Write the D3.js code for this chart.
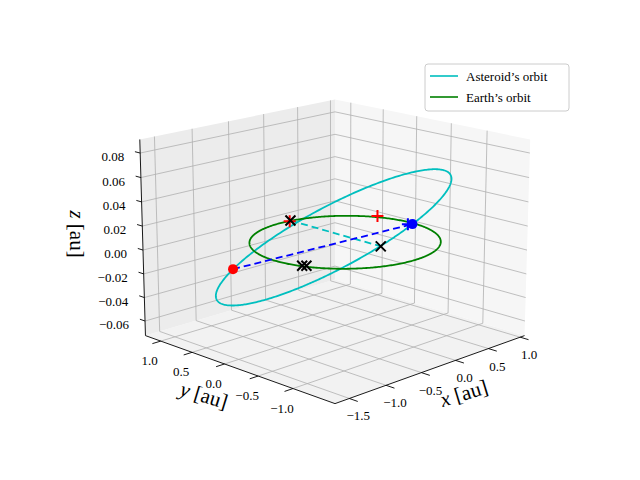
<!DOCTYPE html>
<html><head><meta charset="utf-8">
<script src="https://cdn.jsdelivr.net/npm/d3@7"></script>
<style>body{margin:0;background:#fff}svg text{font-family:"Liberation Serif","DejaVu Serif",serif}</style>
</head><body><svg id="c" width="640" height="480"></svg>
<script>
// axis limits and ticks
const xLim=[-1.69,1.07], yLim=[-1.58,1.25], zLim=[-0.0725,0.091];
const xTicks=[-1.5,-1.0,-0.5,0.0,0.5,1.0];
const yTicks=[-1.0,-0.5,0.0,0.5,1.0];
const zTicks=[-0.06,-0.04,-0.02,0.00,0.02,0.04,0.06,0.08];
// Earth orbit: radius (au); Asteroid orbital elements
const earthRadius=1.0;
const astA=1.24, astE=0.228, astIncDeg=-3.5, astNodeDeg=-3.0, astPeriDeg=22;
// line of nodes endpoints (au)
const nodeRed=[-1.49,0.078,0], nodeBlue=[0.97,-0.05,0];
const crossPts=[[0.15,1.0,0],[0.117,-0.406,0],[-0.93,-0.33,0],[-0.90,-0.36,0]];
const redPlus=[[0.94,0.45,0],[0.12,0.98,0]];
const bluePlus=[[0.93,-0.02,0]];
const cyanDash=[[0.15,1.0,0],[0.117,-0.406,0]];
const legendLabels=["Asteroid’s orbit","Earth’s orbit"];
const colors={ast:"#00bfbf",earth:"#008000"};

const svg=d3.select("#c");
const elev=16*Math.PI/180, azim=-135*Math.PI/180, D=7, S=272, cx=335, cy=239;
const sx=d3.scaleLinear().domain(xLim).range([-0.5,0.5]);
const sy=d3.scaleLinear().domain(yLim).range([-0.5,0.5]);
const sz=d3.scaleLinear().domain(zLim).range([-0.375,0.375]);
const R=[-Math.sin(azim),Math.cos(azim),0];
const U=[-Math.sin(elev)*Math.cos(azim),-Math.sin(elev)*Math.sin(azim),Math.cos(elev)];
const E=[Math.cos(elev)*Math.cos(azim),Math.cos(elev)*Math.sin(azim),Math.sin(elev)];
function P(x,y,z){const p=[sx(x),sy(y),sz(z)];const dot=v=>v[0]*p[0]+v[1]*p[1]+v[2]*p[2];
 const f=D/(D-dot(E));return [cx+S*dot(R)*f, cy-S*dot(U)*f];}
const line=d3.line();
const [x0,x1]=xLim,[y0,y1]=yLim,[z0,z1]=zLim;
// panes
const pane=(pts,fill)=>svg.append("path").attr("d",line(pts.map(p=>P(...p)))+"Z").attr("fill",fill);
pane([[x0,y0,z0],[x1,y0,z0],[x1,y1,z0],[x0,y1,z0]],"#f2f2f2");
pane([[x0,y1,z0],[x1,y1,z0],[x1,y1,z1],[x0,y1,z1]],"#ececec");
pane([[x1,y0,z0],[x1,y1,z0],[x1,y1,z1],[x1,y0,z1]],"#f6f6f6");
const g=svg.append("g").attr("stroke","#b0b0b0").attr("stroke-width",0.8).attr("fill","none");
const seg=(a,b,sel=g)=>sel.append("path").attr("d",line([P(...a),P(...b)]));
xTicks.forEach(t=>{seg([t,y0,z0],[t,y1,z0]);seg([t,y1,z0],[t,y1,z1]);});
yTicks.forEach(t=>{seg([x0,t,z0],[x1,t,z0]);seg([x1,t,z0],[x1,t,z1]);});
zTicks.forEach(t=>{seg([x0,y1,t],[x1,y1,t]);seg([x1,y1,t],[x1,y0,t]);});
// axis lines
const ax=svg.append("g").attr("stroke","#000").attr("stroke-width",0.9).attr("fill","none");
seg([x0,y0,z0],[x1,y0,z0],ax);seg([x0,y0,z0],[x0,y1,z0],ax);seg([x0,y1,z0],[x0,y1,z1],ax);
const tl=svg.append("g").attr("font-size",13).attr("fill","#000");
const fmt=(v,d)=>(v<0?"−":"")+Math.abs(v).toFixed(d);
xTicks.forEach(t=>{const a=P(t,y0,z0);seg([t,y0,z0],[t,y0-0.04*(y1-y0),z0],ax);
 tl.append("text").attr("x",a[0]+9).attr("y",a[1]+22).attr("text-anchor","middle").text(fmt(t,1));});
yTicks.forEach(t=>{const a=P(x0,t,z0);seg([x0,t,z0],[x0-0.04*(x1-x0),t,z0],ax);
 tl.append("text").attr("x",a[0]-11).attr("y",a[1]+24).attr("text-anchor","middle").text(fmt(t,1));});
zTicks.forEach(t=>{const a=P(x0,y1,t);seg([x0,y1,t],[x0,y1+0.03*(y1-y0),t],ax);
 tl.append("text").attr("x",a[0]-16).attr("y",a[1]+8).attr("text-anchor","end").text(fmt(t,2));});
// axis labels
const lab=(x,y,rot,txt)=>{const t=svg.append("text").attr("transform",`translate(${x},${y}) rotate(${rot})`).attr("font-size",21).attr("text-anchor","middle");
 t.append("tspan").attr("font-style","italic").text(txt);t.append("tspan").text(" [au]");};
lab(466,400,-17,"x");lab(202,402,17,"y");lab(70,234,90,"z");
// orbits
const N=400;const th=d3.range(N+1).map(i=>i/N*2*Math.PI);
const earth=th.map(t=>P(earthRadius*Math.cos(t),earthRadius*Math.sin(t),0));
const inc=astIncDeg*Math.PI/180,nd=astNodeDeg*Math.PI/180,pe=astPeriDeg*Math.PI/180;
const nv=[Math.cos(nd),Math.sin(nd),0],pv=[-Math.sin(nd)*Math.cos(inc),Math.cos(nd)*Math.cos(inc),Math.sin(inc)];
const ast=th.map(nu=>{const r=astA*(1-astE*astE)/(1+astE*Math.cos(nu));const ang=nu+pe;
 const al=r*Math.cos(ang),be=r*Math.sin(ang);return P(al*nv[0]+be*pv[0],al*nv[1]+be*pv[1],be*pv[2]);});
svg.append("path").attr("d",line(ast)).attr("stroke",colors.ast).attr("stroke-width",1.8).attr("fill","none");
svg.append("path").attr("d",line(earth)).attr("stroke",colors.earth).attr("stroke-width",1.8).attr("fill","none");
svg.append("path").attr("d",line(cyanDash.map(p=>P(...p)))).attr("stroke",colors.ast).attr("stroke-width",1.8).attr("stroke-dasharray","7,4").attr("fill","none");
svg.append("path").attr("d",line([P(...nodeRed),P(...nodeBlue)])).attr("stroke","#0000ff").attr("stroke-width",1.8).attr("stroke-dasharray","7,4").attr("fill","none");
[[nodeRed,"#ff0000"],[nodeBlue,"#0000ff"]].forEach(([p,c])=>{const q=P(...p);svg.append("circle").attr("cx",q[0]).attr("cy",q[1]).attr("r",5).attr("fill",c);});
const mk=(pts,c,sym,s)=>pts.forEach(p=>{const q=P(...p);svg.append("path").attr("transform",`translate(${q[0]},${q[1]})`)
 .attr("d",sym==="x"?`M${-s},${-s}L${s},${s}M${-s},${s}L${s},${-s}`:`M${-s},0L${s},0M0,${-s}L0,${s}`).attr("stroke",c).attr("stroke-width",2);});
mk(redPlus,"#ff0000","+",6);mk(bluePlus,"#0000ff","+",6);mk(crossPts,"#000","x",5);
// legend
const lg=svg.append("g").attr("transform","translate(425,64)");
lg.append("rect").attr("width",144).attr("height",47).attr("rx",3).attr("fill","#fff").attr("stroke","#ccc");
legendLabels.forEach((l,i)=>{const yy=12+i*21;lg.append("line").attr("x1",5).attr("x2",33).attr("y1",yy).attr("y2",yy).attr("stroke",[colors.ast,colors.earth][i]).attr("stroke-width",1.6);
 lg.append("text").attr("x",41).attr("y",yy+4.5).attr("font-size",13).text(l);});
</script></body></html>
